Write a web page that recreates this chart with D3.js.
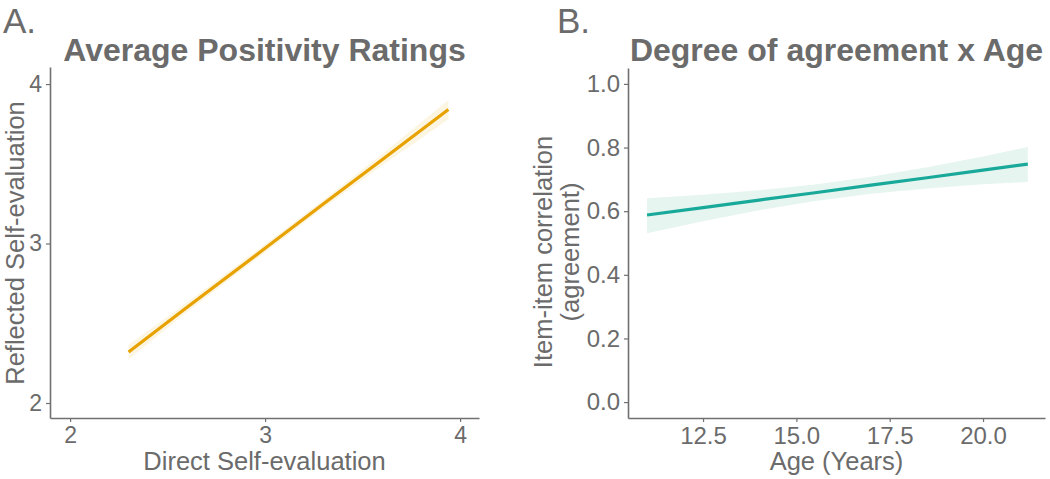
<!DOCTYPE html>
<html><head><meta charset="utf-8">
<script src="https://cdn.jsdelivr.net/npm/d3@7"></script>
<style>body{margin:0;background:#fff}svg{display:block}</style>
</head><body>
<svg id="c" width="1050" height="479"></svg>
<script>
// Panel A data
const aX = [2.30, 2.60, 3.00, 3.30, 3.60, 3.94];
const aFit = [2.32, 2.60, 2.97, 3.25, 3.525, 3.84];
const aLow = [2.275, 2.57, 2.945, 3.225, 3.49, 3.78];
const aHigh = [2.365, 2.63, 2.995, 3.275, 3.56, 3.90];
const aXTicks = [2, 3, 4];
const aYTicks = [2, 3, 4];
// Panel B data
const bAge = [11.0, 12.5, 14.0, 15.5, 17.0, 18.5, 20.0, 21.2];
const bFit = [0.588, 0.611, 0.635, 0.658, 0.682, 0.705, 0.729, 0.748];
const bLow = [0.531, 0.568, 0.603, 0.632, 0.655, 0.671, 0.685, 0.692];
const bHigh = [0.641, 0.652, 0.666, 0.684, 0.708, 0.738, 0.772, 0.802];
const bXTicks = [12.5, 15.0, 17.5, 20.0];
const bYTicks = [0.0, 0.2, 0.4, 0.6, 0.8, 1.0];

const svg = d3.select("#c");
const txt = "#6b6b6b", axc = "#707070";
const FF = "'Liberation Sans', Arial, sans-serif";

function panel(o) {
  const g = svg.append("g");
  const x = d3.scaleLinear().domain(o.xd).range([o.left, o.right]);
  const y = d3.scaleLinear().domain(o.yd).range([o.bottom, o.top]);
  const pts = o.xs.map((v, i) => ({x: v, f: o.fit[i], lo: o.low[i], hi: o.high[i]}));
  g.append("path").datum(pts)
    .attr("d", d3.area().x(d => x(d.x)).y0(d => y(d.lo)).y1(d => y(d.hi)))
    .attr("fill", o.band);
  g.append("path").datum(pts)
    .attr("d", d3.line().x(d => x(d.x)).y(d => y(d.f)))
    .attr("fill", "none").attr("stroke", o.color).attr("stroke-width", 3.2);
  const xa = g.append("g").attr("transform", `translate(0,${o.bottom})`)
    .call(d3.axisBottom(x).tickValues(o.xt).tickFormat(o.xf).tickSize(4).tickPadding(5).tickSizeOuter(0));
  const ya = g.append("g").attr("transform", `translate(${o.left},0)`)
    .call(d3.axisLeft(y).tickValues(o.yt).tickFormat(o.yf).tickSize(4).tickPadding(4).tickSizeOuter(0));
  [xa, ya].forEach(a => {
    a.select(".domain").attr("stroke", axc).attr("stroke-width", 1.6);
    a.selectAll(".tick line").attr("stroke", axc).attr("stroke-width", 1.2);
    a.selectAll(".tick text").attr("fill", txt).style("font-family", FF).style("font-size", o.tickFs + "px");
  });
  g.append("text").attr("x", (o.left + o.right) / 2).attr("y", 61).attr("text-anchor", "middle")
    .attr("fill", txt).style("font-family", FF).style("font-weight", "bold").style("font-size", "32px").text(o.title);
  g.append("text").attr("x", (o.left + o.right) / 2).attr("y", 470).attr("text-anchor", "middle")
    .attr("fill", txt).style("font-family", FF).style("font-size", "25.5px").text(o.xlab);
  const yl = g.append("text").attr("transform", `translate(${o.ylx},${o.yly}) rotate(-90)`)
    .attr("text-anchor", "middle").attr("fill", txt).style("font-family", FF).style("font-size", "25.5px");
  o.ylab.forEach((s, i) => yl.append("tspan").attr("x", 0).attr("dy", i === 0 ? 0 : 27).text(s));
  svg.append("text").attr("x", o.lx).attr("y", 33).attr("fill", txt)
    .style("font-family", FF).style("font-size", "35px").text(o.letter);
}

panel({left: 50, right: 479, top: 67, bottom: 418, xd: [1.897, 4.097], yd: [1.906, 4.107],
  xs: aX, fit: aFit, low: aLow, high: aHigh, xt: aXTicks, yt: aYTicks,
  xf: d3.format("d"), yf: d3.format("d"), tickFs: 23,
  color: "#E8A200", band: "#FBF5E2", title: "Average Positivity Ratings",
  xlab: "Direct Self-evaluation", ylab: ["Reflected Self-evaluation"], ylx: 24, yly: 243,
  letter: "A.", lx: 3});

panel({left: 628, right: 1045, top: 68, bottom: 418, xd: [10.49, 21.66], yd: [-0.05, 1.05],
  xs: bAge, fit: bFit, low: bLow, high: bHigh, xt: bXTicks, yt: bYTicks,
  xf: d3.format(".1f"), yf: d3.format(".1f"), tickFs: 24,
  color: "#19A99A", band: "#E6F5EF", title: "Degree of agreement x Age",
  xlab: "Age (Years)", ylab: ["Item-item correlation", "(agreement)"], ylx: 552, yly: 252,
  letter: "B.", lx: 557});
</script>
</body></html>
